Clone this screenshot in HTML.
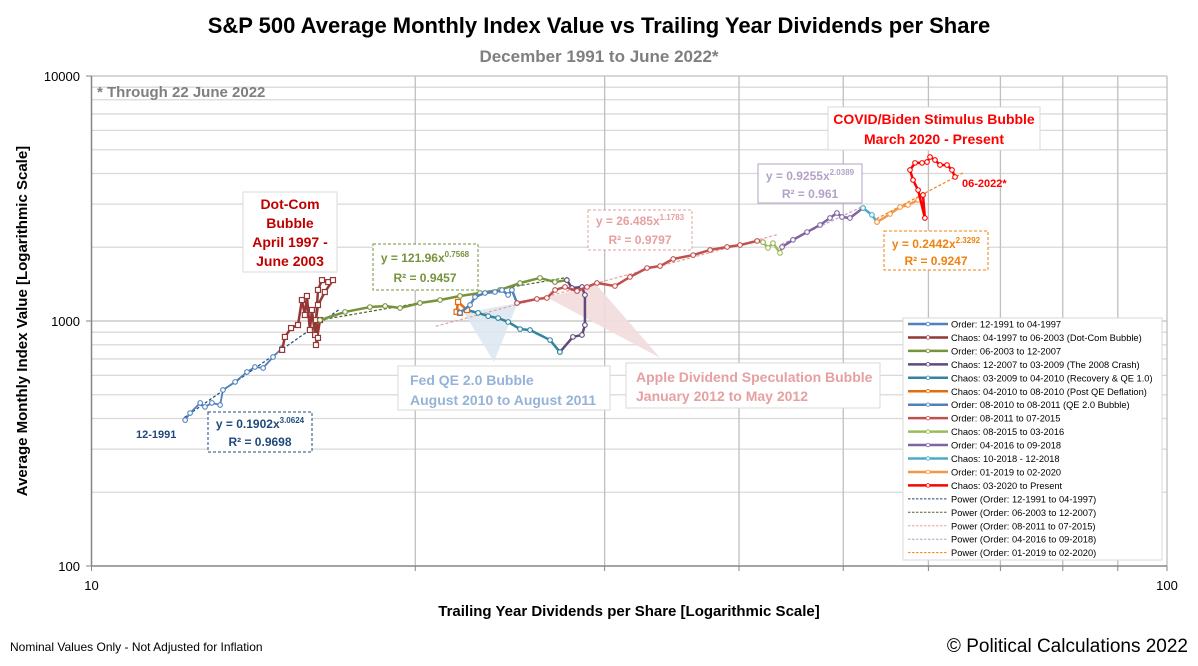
<!DOCTYPE html>
<html><head><meta charset="utf-8">
<style>
html,body{margin:0;padding:0;background:#fff;}
body{width:1198px;height:661px;overflow:hidden;font-family:"Liberation Sans",sans-serif;}
svg text{font-family:"Liberation Sans",sans-serif;}
</style></head>
<body>
<svg id="chart" width="1198" height="661" xmlns="http://www.w3.org/2000/svg">
  <text x="599" y="33" text-anchor="middle" font-size="22" font-weight="bold" fill="#000">S&amp;P 500 Average Monthly Index Value vs Trailing Year Dividends per Share</text>
  <text x="599" y="62" text-anchor="middle" font-size="17" font-weight="bold" fill="#7f7f7f">December 1991 to June 2022*</text>
  <g id="grid"></g>
  <g id="annot-bg"></g>
  <g id="trends"></g>
  <g id="series"></g>
  <g id="axes"></g>
  <text x="97" y="97" font-size="15" font-weight="bold" fill="#7f7f7f">* Through 22 June 2022</text>
  <text transform="translate(27,321) rotate(-90)" text-anchor="middle" font-size="15" font-weight="bold">Average Monthly Index Value [Logarithmic Scale]</text>
  <text x="629" y="616" text-anchor="middle" font-size="15" font-weight="bold">Trailing Year Dividends per Share [Logarithmic Scale]</text>
  <text x="10" y="651" font-size="12">Nominal Values Only - Not Adjusted for Inflation</text>
  <text x="1188" y="652" text-anchor="end" font-size="19">© Political Calculations 2022</text>

  <g>
    <rect x="243" y="192" width="94" height="80" fill="#fff" stroke="#d9d9d9"/>
    <text x="290" y="209" text-anchor="middle" font-size="14" font-weight="bold" fill="#c00000">Dot-Com</text>
    <text x="290" y="228" text-anchor="middle" font-size="14" font-weight="bold" fill="#c00000">Bubble</text>
    <text x="290" y="247" text-anchor="middle" font-size="14" font-weight="bold" fill="#c00000">April 1997 -</text>
    <text x="290" y="266" text-anchor="middle" font-size="14" font-weight="bold" fill="#c00000">June 2003</text>
  </g>
  <g>
    <rect x="373" y="244" width="105" height="46" fill="#fff" stroke="#77933c" stroke-dasharray="3,2"/>
    <text x="425" y="262" text-anchor="middle" font-size="12" font-weight="bold" fill="#77933c">y = 121.96x<tspan font-size="8" dy="-5">0.7568</tspan></text>
    <text x="425" y="282" text-anchor="middle" font-size="12" font-weight="bold" fill="#77933c">R² = 0.9457</text>
  </g>
  <g>
    <rect x="208" y="412" width="104" height="40" fill="#fff" stroke="#1f497d" stroke-dasharray="3,2"/>
    <text x="260" y="428" text-anchor="middle" font-size="12" font-weight="bold" fill="#1f497d">y = 0.1902x<tspan font-size="8" dy="-5">3.0624</tspan></text>
    <text x="260" y="446" text-anchor="middle" font-size="12" font-weight="bold" fill="#1f497d">R² = 0.9698</text>
  </g>
  <g>
    <rect x="588" y="210" width="104" height="40" fill="#fff" stroke="#e6a0a0" stroke-dasharray="3,2"/>
    <text x="640" y="225" text-anchor="middle" font-size="12" font-weight="bold" fill="#e6a0a0">y = 26.485x<tspan font-size="8" dy="-5">1.1783</tspan></text>
    <text x="640" y="244" text-anchor="middle" font-size="12" font-weight="bold" fill="#e6a0a0">R² = 0.9797</text>
  </g>
  <g>
    <rect x="758" y="164" width="104" height="39" fill="#fff" stroke="#b3a2c7"/>
    <text x="810" y="180" text-anchor="middle" font-size="12" font-weight="bold" fill="#b3a2c7">y = 0.9255x<tspan font-size="8" dy="-5">2.0389</tspan></text>
    <text x="810" y="198" text-anchor="middle" font-size="12" font-weight="bold" fill="#b3a2c7">R² = 0.961</text>
  </g>
  <g>
    <rect x="884" y="231" width="104" height="39" fill="#fff" stroke="#f0820f" stroke-dasharray="3,2"/>
    <text x="936" y="248" text-anchor="middle" font-size="12" font-weight="bold" fill="#f0820f">y = 0.2442x<tspan font-size="8" dy="-5">2.3292</tspan></text>
    <text x="936" y="265" text-anchor="middle" font-size="12" font-weight="bold" fill="#f0820f">R² = 0.9247</text>
  </g>
  <g>
    <rect x="828" y="107" width="212" height="43" fill="#fff" stroke="#d9d9d9"/>
    <text x="934" y="124" text-anchor="middle" font-size="14" font-weight="bold" fill="#ff0000">COVID/Biden Stimulus Bubble</text>
    <text x="934" y="144" text-anchor="middle" font-size="14" font-weight="bold" fill="#ff0000">March 2020 - Present</text>
  </g>
  <text x="962" y="187" font-size="11" font-weight="bold" fill="#ff0000">06-2022*</text>
  <text x="136" y="438" font-size="11" font-weight="bold" fill="#1f497d">12-1991</text>
  <g>
    <rect x="398" y="366" width="212" height="44" fill="#fff" stroke="#d9d9d9"/>
    <text x="410" y="385" font-size="14" font-weight="bold" fill="#95b3d7">Fed QE 2.0 Bubble</text>
    <text x="410" y="405" font-size="14" font-weight="bold" fill="#95b3d7">August 2010 to August 2011</text>
  </g>
  <g>
    <rect x="626" y="363" width="254" height="45" fill="#fff" stroke="#d9d9d9"/>
    <text x="636" y="382" font-size="14" font-weight="bold" fill="#e6a0a0">Apple Dividend Speculation Bubble</text>
    <text x="636" y="401" font-size="14" font-weight="bold" fill="#e6a0a0">January 2012 to May 2012</text>
  </g>
  <g id="legend">
    <rect x="903" y="318" width="259" height="242" fill="#fff" stroke="#d9d9d9"/>
  </g>
</svg>
<script>
const s1D=[12.22,12.35,12.62,12.75,12.94,13.17,13.25,13.6,13.95,14.19,14.44,14.75,15.04];
const s1V=[394,421,463,446,463,454,523,564,619,649,643,713,776];
const s2D=[15.04,15.13,15.33,15.56,15.69,15.79,15.86,15.96,16.03,16.14,16.24,16.38,16.6,16.77,16.48,16.24,16.17,16.24,16.17,16.31];
const s2V=[762,861,936,963,1218,1058,1265,919,1109,877,1339,1469,1442,1469,1313,1162,1009,853,798,1009];
const s3D=[16.31,17.21,18.15,18.75,19.36,20.2,21.09,22.01,22.97,23.98,25.03,26.12,26.97,27.67];
const s3V=[1009,1089,1140,1151,1130,1184,1218,1265,1301,1339,1429,1499,1442,1469];
const s4D=[27.67,27.97,28.58,28.76,28.76,28.58,28.03,27.26];
const s4V=[1469,1364,1377,1277,963,877,861,747];
const s5D=[27.26,26.69,25.57,25.03,24.4,23.88,23.38,22.88,22.34];
const s5V=[747,836,919,927,991,1028,1047,1079,1109];
const s6D=[22.34,21.92,21.85,22.01];
const s6V=[1109,1196,1090,1079];
const s7D=[22.01,22.49,22.73,23.22,23.72,24.08,24.4,24.6,24.87];
const s7V=[1079,1162,1253,1301,1313,1339,1277,1339,1184];
const s8D=[24.87,25.95,26.51,26.98,27.56,28.28,28.89,29.51,30.67,31.67,32.85,33.78,34.74,36.26,37.6,38.99,40.09,41.58,42.11];
const s8V=[1184,1230,1242,1339,1377,1325,1377,1429,1389,1513,1645,1676,1791,1858,1950,2005,2042,2122,2099];
const s9D=[42.11,42.56,43.02,43.67,43.86];
const s9V=[2099,1986,2080,1896,2005];
const s10D=[43.86,44.9,46.27,47.58,48.6,49.33,49.86,50.72,52.16];
const s10V=[2005,2143,2307,2466,2632,2760,2657,2632,2891];
const s11D=[52.16,53.17,53.75];
const s11V=[2891,2710,2535];
const s12D=[53.75,55.27,56.47,57.43,58.69,59.31];
const s12V=[2535,2733,2919,2975,3119,3268];
const s13D=[59.31,59.55,58.69,58.06,57.68,58.31,59.19,59.82,60.21,60.85,61.51,62.44,63.11,63.52];
const s13V=[3268,2632,3424,3765,4134,4418,4418,4457,4670,4542,4333,4333,4134,3872];
const seriesNames=["Order: 12-1991 to 04-1997","Chaos: 04-1997 to 06-2003 (Dot-Com Bubble)","Order: 06-2003 to 12-2007","Chaos: 12-2007 to 03-2009 (The 2008 Crash)","Chaos: 03-2009 to 04-2010 (Recovery & QE 1.0)","Chaos: 04-2010 to 08-2010 (Post QE Deflation)","Order: 08-2010 to 08-2011 (QE 2.0 Bubble)","Order: 08-2011 to 07-2015","Chaos: 08-2015 to 03-2016","Order: 04-2016 to 09-2018","Chaos: 10-2018 - 12-2018","Order: 01-2019 to 02-2020","Chaos: 03-2020 to Present"];
const trendNames=["Power (Order: 12-1991 to 04-1997)","Power (Order: 06-2003 to 12-2007)","Power (Order: 08-2011 to 07-2015)","Power (Order: 04-2016 to 09-2018)","Power (Order: 01-2019 to 02-2020)"];
const trendA=[0.1902,121.96,26.485,0.9255,0.2442];
const trendB=[3.0624,0.7568,1.1783,2.0389,2.3292];
const trendFrom=[12.2,16.3,20.9,43.8,53.7];
const trendTo=[17.0,27.7,43.5,52.2,64.6];
const xTicks=[10,100];
const yTicks=[100,1000,10000];

const NS="http://www.w3.org/2000/svg";
const xs=d=>91.5+1075.5*(Math.log10(d)-1);
const ys=v=>566-245*(Math.log10(v)-2);
function mk(tag,attrs,parent){const e=document.createElementNS(NS,tag);for(const k in attrs)e.setAttribute(k,attrs[k]);parent.appendChild(e);return e;}

const grid=document.getElementById('grid');
for(let dec=100;dec<10000;dec*=10){for(let m=2;m<=9;m++){const y=ys(dec*m);
 const l=mk('line',{x1:91.5,x2:1167,y1:y,y2:y,stroke:'#d9d9d9','stroke-width':1.3},grid);
 
 }}
{const l=mk('line',{x1:91.5,x2:1167,y1:ys(1000),y2:ys(1000),stroke:'#bfbfbf','stroke-width':1.3},grid);
 
 }
{const l=mk('line',{x1:91.5,x2:1167,y1:ys(10000),y2:ys(10000),stroke:'#bfbfbf','stroke-width':1.3},grid);
 
 }
for(let m=2;m<=10;m++){const x=xs(10*m);
 const l=mk('line',{x1:x,x2:x,y1:76,y2:566,stroke:'#bfbfbf','stroke-width':1.3},grid);
 
 }

const axes=document.getElementById('axes');
mk('line',{x1:91.5,x2:91.5,y1:76,y2:566,stroke:'#868686','stroke-width':1.5},axes);
mk('line',{x1:91.5,x2:1167,y1:566,y2:566,stroke:'#868686','stroke-width':1.5},axes);
yTicks.forEach(v=>{const y=ys(v);mk('line',{x1:86,x2:91.5,y1:y,y2:y,stroke:'#868686'},axes);
 const t=mk('text',{x:80,y:y+5,'text-anchor':'end','font-size':13},axes);t.textContent=v;
 
 });
xTicks.forEach(d=>{const x=xs(d);mk('line',{x1:x,x2:x,y1:566,y2:571,stroke:'#868686'},axes);
 const t=mk('text',{x:x,y:590,'text-anchor':'middle','font-size':13},axes);t.textContent=d;
 
 });
for(let m=2;m<=9;m++){const x=xs(10*m);mk('line',{x1:x,x2:x,y1:566,y2:571,stroke:'#868686'},axes);}

const ab=document.getElementById('annot-bg');
{const p=mk('polygon',{points:`${xs(22.2)},${ys(1080)} ${xs(24.9)},${ys(1184)} ${xs(23.67)},${ys(680)}`,fill:'#dce6f1',opacity:0.85},ab);
 
 }
{const p=mk('polygon',{points:`${xs(26.5)},${ys(1250)} ${xs(29.5)},${ys(1400)} ${xs(33.8)},${ys(706)}`,fill:'#f2dcdb',opacity:0.9},ab);
 
 }

const tcol=['#1f497d','#4f6228','#e6a0a0','#b3a2c7','#f0820f'];
const tr=document.getElementById('trends');
trendA.forEach((a,i)=>{let pts=[];const n=30;for(let k=0;k<=n;k++){const d=trendFrom[i]*Math.pow(trendTo[i]/trendFrom[i],k/n);pts.push(xs(d)+','+ys(a*Math.pow(d,trendB[i])));}
 const l=mk('polyline',{points:pts.join(' '),fill:'none',stroke:tcol[i],'stroke-width':1.2,'stroke-dasharray':'3,2'},tr);
 
 });

const SD=[s1D,s2D,s3D,s4D,s5D,s6D,s7D,s8D,s9D,s10D,s11D,s12D,s13D];
const SV=[s1V,s2V,s3V,s4V,s5V,s6V,s7V,s8V,s9V,s10V,s11V,s12V,s13V];
const col=['#4f81bd','#953735','#77933c','#604a7b','#31859c','#e46c0a','#4f81bd','#c0504d','#9bbb59','#8064a2','#4bacc6','#f79646','#ff0000'];
const sg=document.getElementById('series');
SD.forEach((D,i)=>{const g=mk('g',{},sg);
 
 
 const pts=D.map((d,k)=>xs(d)+','+ys(SV[i][k]));
 mk('polyline',{points:pts.join(' '),fill:'none',stroke:col[i],'stroke-width':i===0?1.8:2.5,'stroke-linejoin':'round'},g);
 D.forEach((d,k)=>{const x=xs(d),y=ys(SV[i][k]);let m;
  if(i===1||i===5) m=mk('rect',{x:x-2.5,y:y-2.5,width:5,height:5,fill:'#fff',stroke:col[i],'stroke-width':1.2},g);
  else m=mk('circle',{cx:x,cy:y,r:2.3,fill:'#fff',stroke:col[i],'stroke-width':1.1},g);
  
  });
});

const lg=document.getElementById('legend');
seriesNames.forEach((n,i)=>{const y=324+i*13.45;
 mk('line',{x1:908,x2:948,y1:y,y2:y,stroke:col[i],'stroke-width':2.5},lg);
 mk('circle',{cx:928,cy:y,r:1.8,fill:'#fff',stroke:col[i],'stroke-width':0.8},lg);
 const t=mk('text',{x:951,y:y+3.5,'font-size':9.3},lg);t.textContent=n;
 
 });
trendNames.forEach((n,i)=>{const y=324+(13+i)*13.45;
 mk('line',{x1:908,x2:948,y1:y,y2:y,stroke:tcol[i],'stroke-width':1,'stroke-dasharray':'2.5,1.5'},lg);
 const t=mk('text',{x:951,y:y+3.5,'font-size':9.3},lg);t.textContent=n;
 
 });
</script>
</body></html>
